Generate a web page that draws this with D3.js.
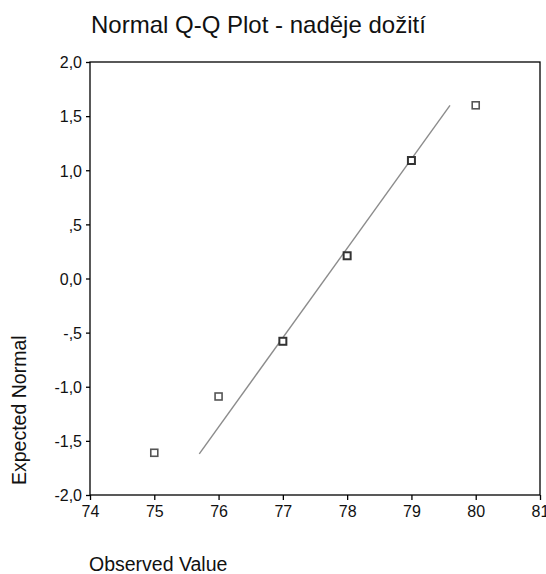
<!DOCTYPE html>
<html>
<head>
<meta charset="utf-8">
<script src="https://cdn.jsdelivr.net/npm/d3@7"></script>
<style>
	body { margin: 0; background: #fff; }
	svg text { font-family: Arial, "Liberation Sans", sans-serif; fill: #111; }
</style>
</head>
<body>
<div id="chart"></div>
<script>
let observed = [75, 76, 77, 78, 79, 80];
let expected = [-1.61, -1.09, -0.58, 0.21, 1.09, 1.6];
let counts = [1, 1, 2, 2, 2, 1];

let lineObserved = [75.7, 79.6];
let lineExpected = [-1.62, 1.6];

let xTicks = [74, 75, 76, 77, 78, 79, 80, 81];
let yTicks = [2, 1.5, 1, 0.5, 0, -0.5, -1, -1.5, -2];
let yTickLabels = ['2,0', '1,5', '1,0', ',5', '0,0', '-,5', '-1,0', '-1,5', '-2,0'];

let WIDTH = 546;
let HEIGHT = 574;
let margin = {top: 62, right: 6, bottom: 79, left: 90};

let svg = d3.select('#chart').append('svg')
	.attr('width', WIDTH)
	.attr('height', HEIGHT);

let x = d3.scaleLinear()
	.domain([74, 81])
	.range([margin.left, WIDTH - margin.right]);

let y = d3.scaleLinear()
	.domain([-2, 2])
	.range([HEIGHT - margin.bottom, margin.top]);

// frame
svg.append('rect')
	.attr('x', x(74))
	.attr('y', y(2))
	.attr('width', x(81) - x(74))
	.attr('height', y(-2) - y(2))
	.attr('fill', 'none')
	.attr('stroke', '#000')
	.attr('stroke-width', 1.3);

let xAxis = svg.append('g')
	.attr('transform', `translate(0,${y(-2)})`)
	.call(d3.axisBottom(x).tickValues(xTicks).tickSize(5).tickPadding(6).tickFormat(d3.format('d')));

let yAxis = svg.append('g')
	.attr('transform', `translate(${x(74)},0)`)
	.call(d3.axisLeft(y).tickValues(yTicks).tickSize(4).tickPadding(4)
		.tickFormat((d, i) => yTickLabels[i]));

[xAxis, yAxis].forEach((g) => {
	g.select('.domain').remove();
	g.selectAll('.tick line').attr('stroke', '#000').attr('stroke-width', 1.3);
	g.selectAll('.tick text')
		.attr('font-size', 16)
		.attr('fill', '#111')
		.style('font-family', 'Arial, "Liberation Sans", sans-serif');
});
yAxis.selectAll('.tick text').attr('dy', '0.36em');

// reference line
svg.append('line')
	.attr('x1', x(lineObserved[0]))
	.attr('y1', y(lineExpected[0]))
	.attr('x2', x(lineObserved[1]))
	.attr('y2', y(lineExpected[1]))
	.attr('stroke', '#8c8c8c')
	.attr('stroke-width', 1.4);

// points (tied cases are drawn on top of each other, so they look darker)
let pts = observed.map((d, i) => ({x: d, y: expected[i], n: counts[i]}));
svg.append('g').selectAll('rect')
	.data(pts)
	.enter().append('rect')
	.attr('x', (d) => x(d.x) - 3.5)
	.attr('y', (d) => y(d.y) - 3.5)
	.attr('width', 7)
	.attr('height', 7)
	.attr('fill', '#fff')
	.attr('stroke', (d) => d.n > 1 ? '#333' : '#555')
	.attr('stroke-width', (d) => d.n > 1 ? 2 : 1.6);

// labels
svg.append('text')
	.attr('x', 91)
	.attr('y', 33)
	.attr('font-size', 24)
	.text('Normal Q-Q Plot - naděje dožití');

svg.append('text')
	.attr('x', 89)
	.attr('y', 571)
	.attr('font-size', 19.5)
	.text('Observed Value');

svg.append('text')
	.attr('transform', 'translate(26,485) rotate(-90)')
	.attr('font-size', 19.5)
	.text('Expected Normal');
</script>
</body>
</html>
